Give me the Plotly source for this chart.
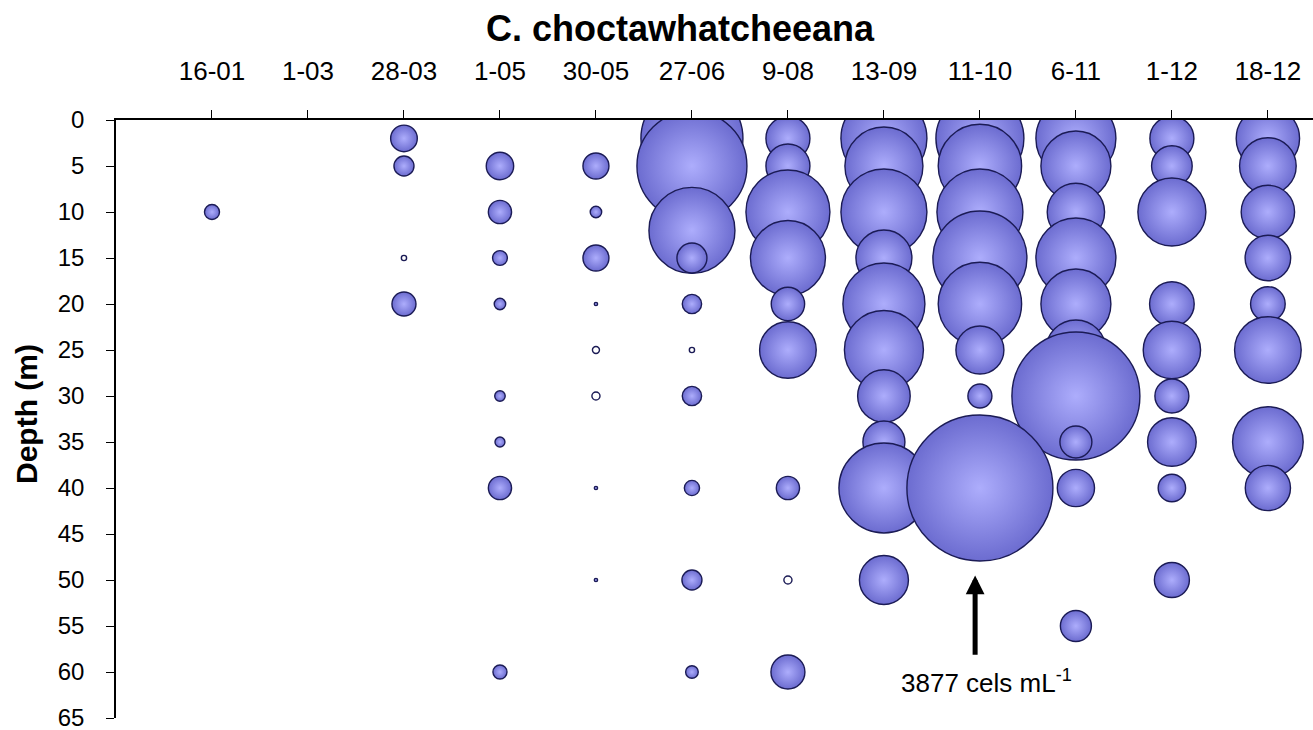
import plotly.graph_objects as go

# ---- data ----
dates = ["16-01", "1-03", "28-03", "1-05", "30-05", "27-06",
         "9-08", "13-09", "11-10", "6-11", "1-12", "18-12"]
depths = [2, 5, 10, 12, 15, 20, 25, 30, 35, 40, 50, 55, 60]
depth_ticks = list(range(0, 70, 5))
N = None
# cells mL-1 at each depth (aligned with `depths`); negative = hollow (Excel negative bubble)
c_16_01 = [N, N, 41, N, N, N, N, N, N, N, N, N, N]
c_01_03 = [N, N, N, N, N, N, N, N, N, N, N, N, N]
c_28_03 = [129, 73, N, N, -5, 105, N, N, N, N, N, N, N]
c_01_05 = [N, 137, 98, N, 40, 24, N, 20, 18, 98, N, N, 36]
c_30_05 = [N, 123, 24, N, 123, 2, -9, -12, N, 2, 2, N, N]
c_27_06 = [1892, 2201, N, 1345, 164, 68, -5, 68, N, 42, 73, N, 29]
c_09_08 = [352, 352, 1283, N, 1023, 203, 583, N, N, 98, -12, N, 210]
c_13_09 = [1345, 1107, 1345, N, 570, 1223, 1135, 503, 321, 1473, 437, N, N]
c_11_10 = [1408, 1265, 1345, N, 1607, 1265, 419, 105, N, 3877, N, N, N]
c_06_11 = [1164, 891, 599, N, 1164, 891, 655, 2980, 186, 252, N, 175, N]
c_01_12 = [352, 300, 841, N, N, 362, 599, 210, 430, 137, 223, N, N]
c_18_12 = [731, 583, 519, N, 378, 218, 807, N, 907, 372, N, N, N]
columns = [c_16_01, c_01_03, c_28_03, c_01_05, c_30_05, c_27_06,
           c_09_08, c_13_09, c_11_10, c_06_11, c_01_12, c_18_12]

FILL_EDGE = "#6c6cd0"
FILL_CENTER = "#adadfc"
OUTLINE = "#1b1b55"

xs, ys, sizes, fills, grads, texts = [], [], [], [], [], []
# draw shallow first, deeper on top (like the series order in the original)
for i, d in enumerate(depths):
    for j, col in enumerate(columns):
        v = col[i]
        if v is None:
            continue
        xs.append(j + 1)
        ys.append(d)
        sizes.append(abs(v))
        if v < 0:
            fills.append("white")
            grads.append("white")
        else:
            fills.append(FILL_EDGE)
            grads.append(FILL_CENTER)
        texts.append(f"{dates[j]}, {d} m: {v}")

max_v = max(sizes)
max_diam = 146
sizeref = 2.0 * max_v / (max_diam ** 2)

fig = go.Figure()
fig.add_trace(go.Scatter(
    x=xs, y=ys, mode="markers",
    text=texts, hoverinfo="text",
    marker=dict(size=sizes, sizemode="area", sizeref=sizeref, sizemin=0,
                color=fills, opacity=1,
                gradient=dict(type="radial", color=grads),
                line=dict(color=OUTLINE, width=1.4)),
    cliponaxis=True, showlegend=False,
))

FONT = "Arial, Liberation Sans, sans-serif"

fig.update_layout(
    width=1313, height=730,
    margin=dict(l=116, r=0, t=120, b=12, autoexpand=False),
    paper_bgcolor="white", plot_bgcolor="white",
    font=dict(family=FONT, color="black"),
    title=dict(text="<b>C. choctawhatcheeana</b>", font=dict(size=36, family=FONT, color="black"),
               x=680 / 1313, xref="container", xanchor="center",
               y=1 - 28 / 730, yref="container", yanchor="middle"),
    xaxis=dict(side="top", range=[0, 12.47], tickvals=list(range(1, 13)), ticktext=dates,
               ticks="outside", ticklen=8, tickwidth=1.3, tickcolor="black",
               showline=True, linecolor="black", linewidth=1.5,
               showgrid=False, zeroline=False, tickfont=dict(size=26),
               ticklabelstandoff=20, automargin=False, fixedrange=True,
               ticklabeloverflow="allow"),
    yaxis=dict(range=[65, 0], tickvals=depth_ticks,
               ticks="outside", ticklen=8, tickwidth=1.3, tickcolor="black",
               showline=True, linecolor="black", linewidth=1.5,
               showgrid=False, zeroline=False, tickfont=dict(size=24),
               ticklabelstandoff=17, automargin=False, fixedrange=True,
               ticklabeloverflow="allow"),
)

# y-axis title
fig.add_annotation(text="<b>Depth (m)</b>", textangle=-90, showarrow=False,
                   xref="paper", yref="paper", x=(26 - 116) / 1197, y=(718 - 414) / 598,
                   xanchor="center", yanchor="middle", font=dict(size=30, family=FONT))

# arrow pointing at the largest bubble
fig.add_annotation(x=8.95, y=49.5, ax=8.95, ay=58.3, xref="x", yref="y", axref="x", ayref="y",
                   text="", showarrow=True, arrowhead=2, arrowsize=0.75, arrowwidth=5,
                   arrowcolor="black")
fig.add_annotation(x=9.07, y=61.0, xref="x", yref="y", showarrow=False,
                   text=f"{max_v} cels mL<sup>-1</sup>", font=dict(size=26, family=FONT),
                   xanchor="center", yanchor="middle")

fig.write_html("out.html", config={"displayModeBar": False},
               post_script="document.body.style.margin='0';document.body.style.overflow='hidden';")
